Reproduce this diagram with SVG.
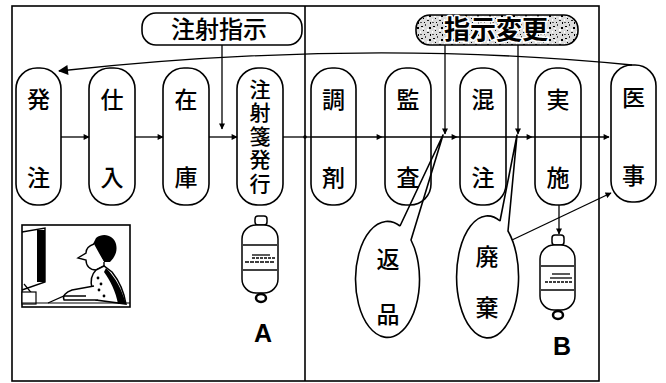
<svg xmlns="http://www.w3.org/2000/svg" width="666" height="383" viewBox="0 0 666 383">
  <defs>
    <style>
      .frame { fill: none; stroke: #000; stroke-width: 1.6; }
      .node { fill: #fff; stroke: #000; stroke-width: 1.6; }
      .jp { font-family: "Noto Sans CJK JP", "Noto Sans CJK SC", sans-serif; fill: #000; text-anchor: middle; }
      .lbl { font-size: 23px; font-weight: 500; }
      .line { fill: none; stroke: #000; stroke-width: 1.3; }
      .arr { fill: none; stroke: #000; stroke-width: 1.3; marker-end: url(#ah); }
      .balloon { fill: none; stroke: #000; stroke-width: 1.6; stroke-linejoin: round; }
      .bag { fill: #fff; stroke: #000; stroke-width: 1.5; }
      .big { font-family: "Liberation Sans", Arial, sans-serif; font-weight: bold; font-size: 25px; text-anchor: middle; }
    </style>
    <marker id="ah" viewBox="0 0 10 10" refX="9" refY="5" markerWidth="7" markerHeight="6" markerUnits="userSpaceOnUse" orient="auto">
      <path d="M0,0 L10,5 L0,10 Z" fill="#000"/>
    </marker>
    <marker id="ahBig" viewBox="0 0 10 10" refX="9" refY="5" markerWidth="12" markerHeight="10" markerUnits="userSpaceOnUse" orient="auto">
      <path d="M0,0 L10,5 L0,10 Z" fill="#000"/>
    </marker>
    <pattern id="speckle" width="12" height="12" patternUnits="userSpaceOnUse">
      <rect width="12" height="12" fill="#dcdcdc"/>
      <rect x="1" y="2" width="2" height="1" fill="#000"/>
      <rect x="5" y="0" width="1" height="2" fill="#444"/>
      <rect x="9" y="3" width="2" height="2" fill="#000"/>
      <rect x="3" y="6" width="1" height="1" fill="#000"/>
      <rect x="7" y="8" width="2" height="1" fill="#222"/>
      <rect x="10" y="10" width="1" height="2" fill="#000"/>
      <rect x="0" y="10" width="2" height="1" fill="#555"/>
      <rect x="4" y="10" width="1" height="1" fill="#000"/>
      <rect x="2" y="4" width="2" height="1" fill="#fff"/>
      <rect x="7" y="5" width="2" height="2" fill="#fff"/>
      <rect x="0" y="7" width="1" height="2" fill="#fff"/>
    </pattern>
  </defs>

  <rect width="666" height="383" fill="#fff"/>

  <!-- outer frames: two halves of the process -->
  <g id="frames">
    <rect class="frame" x="12" y="6" width="587" height="375"/>
    <line class="frame" x1="305" y1="6" x2="305" y2="381"/>
  </g>

  <!-- instruction boxes -->
  <g id="instruction">
    <rect class="node" x="142" y="13" width="160" height="32" rx="14"/>
    <text class="jp" x="219" y="38" font-size="24" font-weight="500">注射指示</text>
  </g>
  <g id="instruction-change">
    <rect x="416" y="15" width="162" height="30" rx="14" fill="url(#speckle)" stroke="#000" stroke-width="1.6"/>
    <text class="jp" x="496" y="39" font-size="26" font-weight="bold" fill="#000" stroke="#fff" stroke-width="3" paint-order="stroke" stroke-linejoin="round">指示変更</text>
  </g>

  <!-- process nodes -->
  <g id="n-hacchu">
    <rect class="node" x="16" y="68" width="45" height="137" rx="21"/>
    <text class="jp lbl" x="38.5" y="108">発</text>
    <text class="jp lbl" x="38.5" y="186">注</text>
  </g>
  <g id="n-shiire">
    <rect class="node" x="89" y="68" width="46" height="137" rx="21"/>
    <text class="jp lbl" x="112" y="108">仕</text>
    <text class="jp lbl" x="112" y="186">入</text>
  </g>
  <g id="n-zaiko">
    <rect class="node" x="163" y="68" width="46" height="137" rx="21"/>
    <text class="jp lbl" x="186" y="108">在</text>
    <text class="jp lbl" x="186" y="186">庫</text>
  </g>
  <g id="n-chushasen">
    <rect class="node" x="237" y="68" width="46" height="137" rx="21"/>
    <text class="jp" font-size="21" font-weight="500" x="260" y="137" writing-mode="vertical-rl" letter-spacing="2.4">注射箋発行</text>
  </g>
  <g id="n-chozai">
    <rect class="node" x="311" y="68" width="45" height="137" rx="21"/>
    <text class="jp lbl" x="333.5" y="108">調</text>
    <text class="jp lbl" x="333.5" y="186">剤</text>
  </g>
  <g id="n-kansa">
    <rect class="node" x="385" y="68" width="46" height="137" rx="21"/>
    <text class="jp lbl" x="408" y="108">監</text>
    <text class="jp lbl" x="408" y="186">査</text>
  </g>
  <g id="n-konchu">
    <rect class="node" x="460" y="68" width="46" height="137" rx="21"/>
    <text class="jp lbl" x="483" y="108">混</text>
    <text class="jp lbl" x="483" y="186">注</text>
  </g>
  <g id="n-jisshi">
    <rect class="node" x="535" y="68" width="46" height="137" rx="21"/>
    <text class="jp lbl" x="558" y="108">実</text>
    <text class="jp lbl" x="558" y="186">施</text>
  </g>
  <g id="n-iji">
    <rect class="node" x="611" y="65" width="45" height="137" rx="21"/>
    <text class="jp lbl" x="633.5" y="106">医</text>
    <text class="jp lbl" x="633.5" y="184">事</text>
  </g>

  <!-- speech balloons -->
  <g id="b-henpin">
    <path class="balloon" d="M400,226 L443,135 L411,240 A32,58 0 1 1 400,226"/>
    <text class="jp lbl" x="388" y="268">返</text>
    <text class="jp lbl" x="388" y="323">品</text>
  </g>
  <g id="b-haiki">
    <path class="balloon" d="M500,221 L517,135 L508,231 A31,61 0 1 1 500,221"/>
    <text class="jp lbl" x="487" y="265">廃</text>
    <text class="jp lbl" x="487" y="316">棄</text>
  </g>

  <!-- infusion bags -->
  <g id="bag-a">
    <rect class="bag" x="255" y="216" width="12" height="9" rx="3"/>
    <rect class="bag" x="242" y="225" width="36" height="68" rx="14"/>
    <line class="line" x1="243" y1="245" x2="277" y2="245" stroke-width="1"/>
    <line class="line" x1="243" y1="270" x2="277" y2="270" stroke-width="1"/>
    <line class="line" x1="252" y1="255" x2="270" y2="255" stroke-width="1.4"/>
    <line class="line" x1="252" y1="258" x2="275" y2="258" stroke-width="0.8" stroke-dasharray="3 1"/>
    <line class="line" x1="245" y1="262" x2="275" y2="262" stroke-width="0.8" stroke-dasharray="4 1"/>
    <ellipse cx="261" cy="298" rx="5" ry="4" fill="none" stroke="#000" stroke-width="2.5"/>
    <text class="big" x="263" y="342">A</text>
  </g>
  <g id="bag-b">
    <rect class="bag" x="552" y="235" width="12" height="10" rx="3"/>
    <rect class="bag" x="540" y="245" width="35" height="65" rx="14"/>
    <line class="line" x1="541" y1="266" x2="574" y2="266" stroke-width="1"/>
    <line class="line" x1="541" y1="290" x2="574" y2="290" stroke-width="1"/>
    <line class="line" x1="552" y1="274" x2="570" y2="274" stroke-width="1.4"/>
    <line class="line" x1="550" y1="278" x2="572" y2="278" stroke-width="1.2"/>
    <line class="line" x1="545" y1="282" x2="572" y2="282" stroke-width="0.8" stroke-dasharray="3 1"/>
    <ellipse cx="558" cy="315" rx="5" ry="4" fill="none" stroke="#000" stroke-width="2.5"/>
    <text class="big" x="562" y="355">B</text>
  </g>

  <!-- operator at a terminal -->
  <g id="operator">
    <rect x="22" y="225" width="108" height="82" fill="#fff" stroke="#000" stroke-width="1.6"/>
    <!-- monitor -->
    <path d="M22,232 L45,228 L45,282 L22,290" fill="none" stroke="#000" stroke-width="1.4"/>
    <rect x="37" y="230" width="8" height="52" fill="#000"/>
    <path d="M24,284 L34,296" fill="none" stroke="#000" stroke-width="1.2"/>
    <rect x="22" y="292" width="14" height="12" fill="#fff" stroke="#000" stroke-width="1.2"/>
    <!-- head -->
    <path d="M96,238 C104,232 114,236 116,244 C118,252 114,258 110,262 L104,262 L100,256 C98,252 94,250 92,246 Z" fill="#000"/>
    <path d="M94,244 C88,246 86,250 86,253 L78,258 L86,260 C86,266 90,270 96,270 L104,266 L104,262" fill="#fff" stroke="#000" stroke-width="1.4"/>
    <!-- body -->
    <path d="M96,270 C92,274 90,280 92,288 L96,300 L126,304 C124,292 120,282 112,272 L104,266 Z" fill="#fff" stroke="#000" stroke-width="1.5"/>
    <path d="M106,268 C116,278 122,290 126,304 L118,304 C116,292 110,280 104,272 Z" fill="#000"/>
    <circle cx="98" cy="278" r="1.4" fill="#000"/>
    <circle cx="101" cy="284" r="1.4" fill="#000"/>
    <circle cx="99" cy="290" r="1.4" fill="#000"/>
    <circle cx="104" cy="296" r="1.4" fill="#000"/>
    <!-- arms and keyboard -->
    <path d="M94,286 L72,290 C66,292 62,296 64,300 L98,300" fill="#fff" stroke="#000" stroke-width="1.4"/>
    <path d="M48,303 L64,296 L86,296" fill="none" stroke="#000" stroke-width="1.3"/>
    <line x1="22" y1="303" x2="130" y2="303" stroke="#000" stroke-width="1.2"/>
  </g>

  <!-- connectors -->
  <g id="connectors">
    <path class="arr" d="M61,137 L89,137"/>
    <path class="arr" d="M135,137 L163,137"/>
    <path class="arr" d="M209,137 L237,137"/>
    <path class="line" d="M283,137 L312,137"/>
    <circle cx="305" cy="137" r="1.8" fill="#000"/>
    <path class="arr" d="M312,137 L382,137"/>
    <path class="arr" d="M382,137 L457,137"/>
    <path class="arr" d="M457,137 L532,137"/>
    <path class="arr" d="M532,137 L609,137"/>
    <path class="arr" d="M222,45 L222,129"/>
    <path class="arr" d="M445,45 L445,134"/>
    <path class="arr" d="M518,45 L518,134"/>
    <path class="arr" d="M559,205 L559,234"/>
    <path class="arr" d="M512,240 L611,193"/>
    <path fill="none" stroke="#000" stroke-width="1.3" marker-end="url(#ahBig)" d="M632,65 Q360,38 59,71"/>
  </g>
</svg>
